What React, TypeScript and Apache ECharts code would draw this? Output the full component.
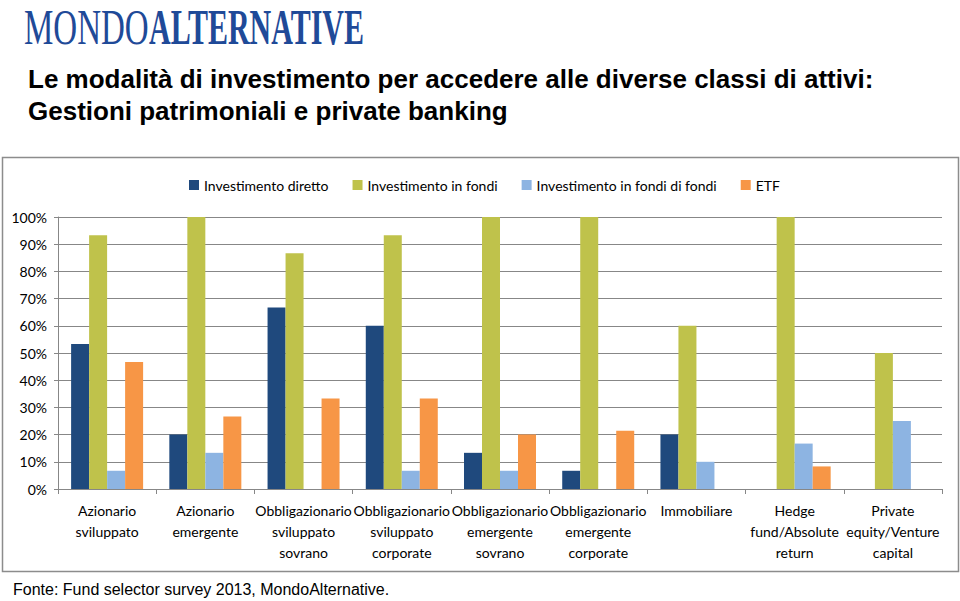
import React, { useEffect, useRef } from "react";
import * as echarts from "echarts";

const categories = [
  "Azionario\nsviluppato",
  "Azionario\nemergente",
  "Obbligazionario\nsviluppato\nsovrano",
  "Obbligazionario\nsviluppato\ncorporate",
  "Obbligazionario\nemergente\nsovrano",
  "Obbligazionario\nemergente\ncorporate",
  "Immobiliare",
  "Hedge\nfund/Absolute\nreturn",
  "Private\nequity/Venture\ncapital",
];

const seriesNames = [
  "Investimento diretto",
  "Investimento in fondi",
  "Investimento in fondi di fondi",
  "ETF",
];

const investimentoDiretto = [53.3, 20, 66.7, 60, 13.3, 6.7, 20, 0, 0];
const investimentoInFondi = [93.3, 100, 86.7, 93.3, 100, 100, 60, 100, 50];
const investimentoFondiDiFondi = [6.7, 13.3, 0, 6.7, 6.7, 0, 10, 16.7, 25];
const etf = [46.7, 26.7, 33.3, 33.3, 20, 21.4, 0, 8.3, 0];

const yTicks = [0, 10, 20, 30, 40, 50, 60, 70, 80, 90, 100];

const colors = ["#1F497D", "#BFC24B", "#8DB4E2", "#F79646"];

export default function App() {
  const ref = useRef<HTMLDivElement>(null);

  useEffect(() => {
    if (!ref.current) return;
    const chart = echarts.init(ref.current, undefined, { renderer: "svg" });
    const values = [investimentoDiretto, investimentoInFondi, investimentoFondiDiFondi, etf];
    const axisColor = "#878787";
    const labelFont = "Lato";
    chart.setOption({
      animation: false,
      backgroundColor: "#ffffff",
      graphic: [
        {
          type: "text",
          x: 24,
          y: 2,
          scaleX: 0.66,
          style: {
            text: "MONDO",
            fontFamily: "Liberation Serif",
            fontSize: 50,
            fontWeight: "normal",
            fill: "#1F4A98",
            textVerticalAlign: "top",
          },
        },
        {
          type: "text",
          x: 149,
          y: 2,
          scaleX: 0.6,
          style: {
            text: "ALTERNATIVE",
            fontFamily: "Liberation Serif",
            fontSize: 50,
            fontWeight: "bold",
            fill: "#1F4A98",
            textVerticalAlign: "top",
          },
        },
        {
          type: "text",
          x: 28,
          y: 63,
          style: {
            text: "Le modalità di investimento per accedere alle diverse classi di attivi:\nGestioni patrimoniali e private banking",
            fontFamily: "Liberation Sans",
            fontSize: 26,
            fontWeight: "bold",
            lineHeight: 32,
            fill: "#000000",
            textVerticalAlign: "top",
          },
        },
        {
          type: "rect",
          shape: { x: 2.5, y: 157.5, width: 956, height: 414 },
          style: { fill: "none", stroke: "#8c8c8c", lineWidth: 1.5 },
          z: -1,
        },
        {
          type: "text",
          x: 13,
          y: 581,
          style: {
            text: "Fonte: Fund selector survey 2013, MondoAlternative.",
            fontFamily: "Liberation Sans",
            fontSize: 16,
            fill: "#000000",
            textVerticalAlign: "top",
          },
        },
      ],
      legend: {
        data: seriesNames,
        left: 184,
        top: 173,
        icon: "rect",
        itemWidth: 10,
        itemHeight: 10,
        itemGap: 24,
        textStyle: { fontFamily: labelFont, fontSize: 14, color: "#000" },
      },
      grid: { left: 58, right: 18, top: 217, bottom: 112, containLabel: false },
      xAxis: {
        type: "category",
        data: categories,
        axisLine: { lineStyle: { color: axisColor, width: 1 } },
        axisTick: { show: true, length: 5, lineStyle: { color: axisColor } },
        axisLabel: {
          interval: 0,
          fontFamily: labelFont,
          fontSize: 14,
          color: "#000",
          lineHeight: 21,
          margin: 11,
        },
      },
      yAxis: {
        type: "value",
        min: 0,
        max: 100,
        interval: 10,
        axisLine: { show: true, lineStyle: { color: axisColor } },
        axisTick: { show: true, length: 4, lineStyle: { color: axisColor } },
        splitLine: { show: true, lineStyle: { color: axisColor, width: 1 } },
        axisLabel: {
          fontFamily: labelFont,
          fontSize: 14,
          color: "#000",
          margin: 11,
          formatter: (v: number) => (yTicks.includes(v) ? `${v}%` : ""),
        },
      },
      series: seriesNames.map((name, i) => ({
        name,
        type: "bar",
        data: values[i],
        barWidth: 18,
        barGap: "0%",
        itemStyle: { color: colors[i] },
      })),
    });
    return () => chart.dispose();
  }, []);

  return (
    <div
      ref={ref}
      style={{ position: "absolute", left: 0, top: 0, width: 960, height: 601 }}
    />
  );
}
